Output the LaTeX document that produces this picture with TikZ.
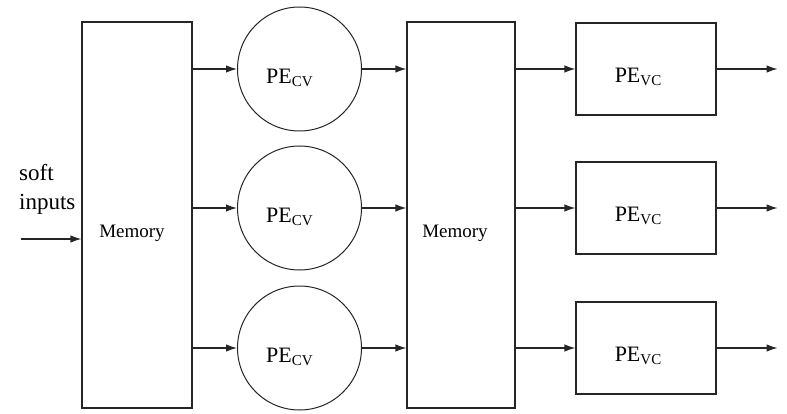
\documentclass[tikz,border=0pt]{standalone}
\usepackage{fontspec}
\setmainfont{Liberation Serif}
\usetikzlibrary{arrows.meta,calc}
\tikzset{
  ln/.style={draw=black!85, line width=1.2pt},
  membox/.style={ln, rectangle, minimum width=110pt, minimum height=386pt, inner sep=0pt},
  pecirc/.style={draw=black!85, line width=1pt, circle, minimum size=124pt, inner sep=0pt},
  vcbox/.style={ln, rectangle, minimum width=140pt, minimum height=92pt, inner sep=0pt},
  arr/.style={draw=black!85, line width=1.2pt, -{Latex[length=11pt,width=7.5pt]}},
  petext/.style={font=\fontsize{22}{26}\selectfont},
  memtext/.style={font=\fontsize{19}{22}\selectfont}
}
\newcommand{\pecv}{PE\raisebox{-3pt}{\fontsize{15}{15}\selectfont CV}}
\newcommand{\pevc}{PE\raisebox{-3pt}{\fontsize{15}{15}\selectfont VC}}
\begin{document}
\begin{tikzpicture}[x=1pt,y=-1pt]
\useasboundingbox (0,0) rectangle (787,414);
% memories
\node[membox, label={[memtext, xshift=-5pt, yshift=-18pt]center:Memory}] (m1) at (137,215) {};
\node[membox, minimum width=108pt, label={[memtext, xshift=-6pt, yshift=-18pt]center:Memory}] (m2) at (461,215) {};
% PE_CV circles
\node[pecirc, label={[petext, xshift=-10pt, yshift=-9pt]center:\pecv}] (c1) at (299.5,69) {};
\node[pecirc, label={[petext, xshift=-10pt, yshift=-9pt]center:\pecv}] (c2) at (299.5,208) {};
\node[pecirc, label={[petext, xshift=-10pt, yshift=-9pt]center:\pecv}] (c3) at (299.5,348) {};
% PE_VC boxes
\node[vcbox, label={[petext, xshift=-8pt, yshift=-8pt]center:\pevc}] (b1) at (646,69) {};
\node[vcbox, label={[petext, xshift=-8pt, yshift=-8pt]center:\pevc}] (b2) at (646,208) {};
\node[vcbox, label={[petext, xshift=-8pt, yshift=-8pt]center:\pevc}] (b3) at (646,348) {};
% input
\node[font=\fontsize{23}{29}\selectfont, align=left, anchor=north west, inner sep=0pt] (lbl) at (19,164) {soft\\inputs};
\coordinate (in) at (21,239);
\draw[arr] (in) -- (m1.west |- in);
% arrows
\foreach \i in {1,2,3}{
  \draw[arr] (m1.east |- c\i.west) -- (c\i.west);
  \draw[arr] (c\i.east) -- (m2.west |- c\i.east);
  \draw[arr] (m2.east |- b\i.west) -- (b\i.west);
  \coordinate (o\i) at ($(b\i.east)+(61,0)$);
  \draw[arr] (b\i.east) -- (o\i);
}
\end{tikzpicture}
\end{document}
